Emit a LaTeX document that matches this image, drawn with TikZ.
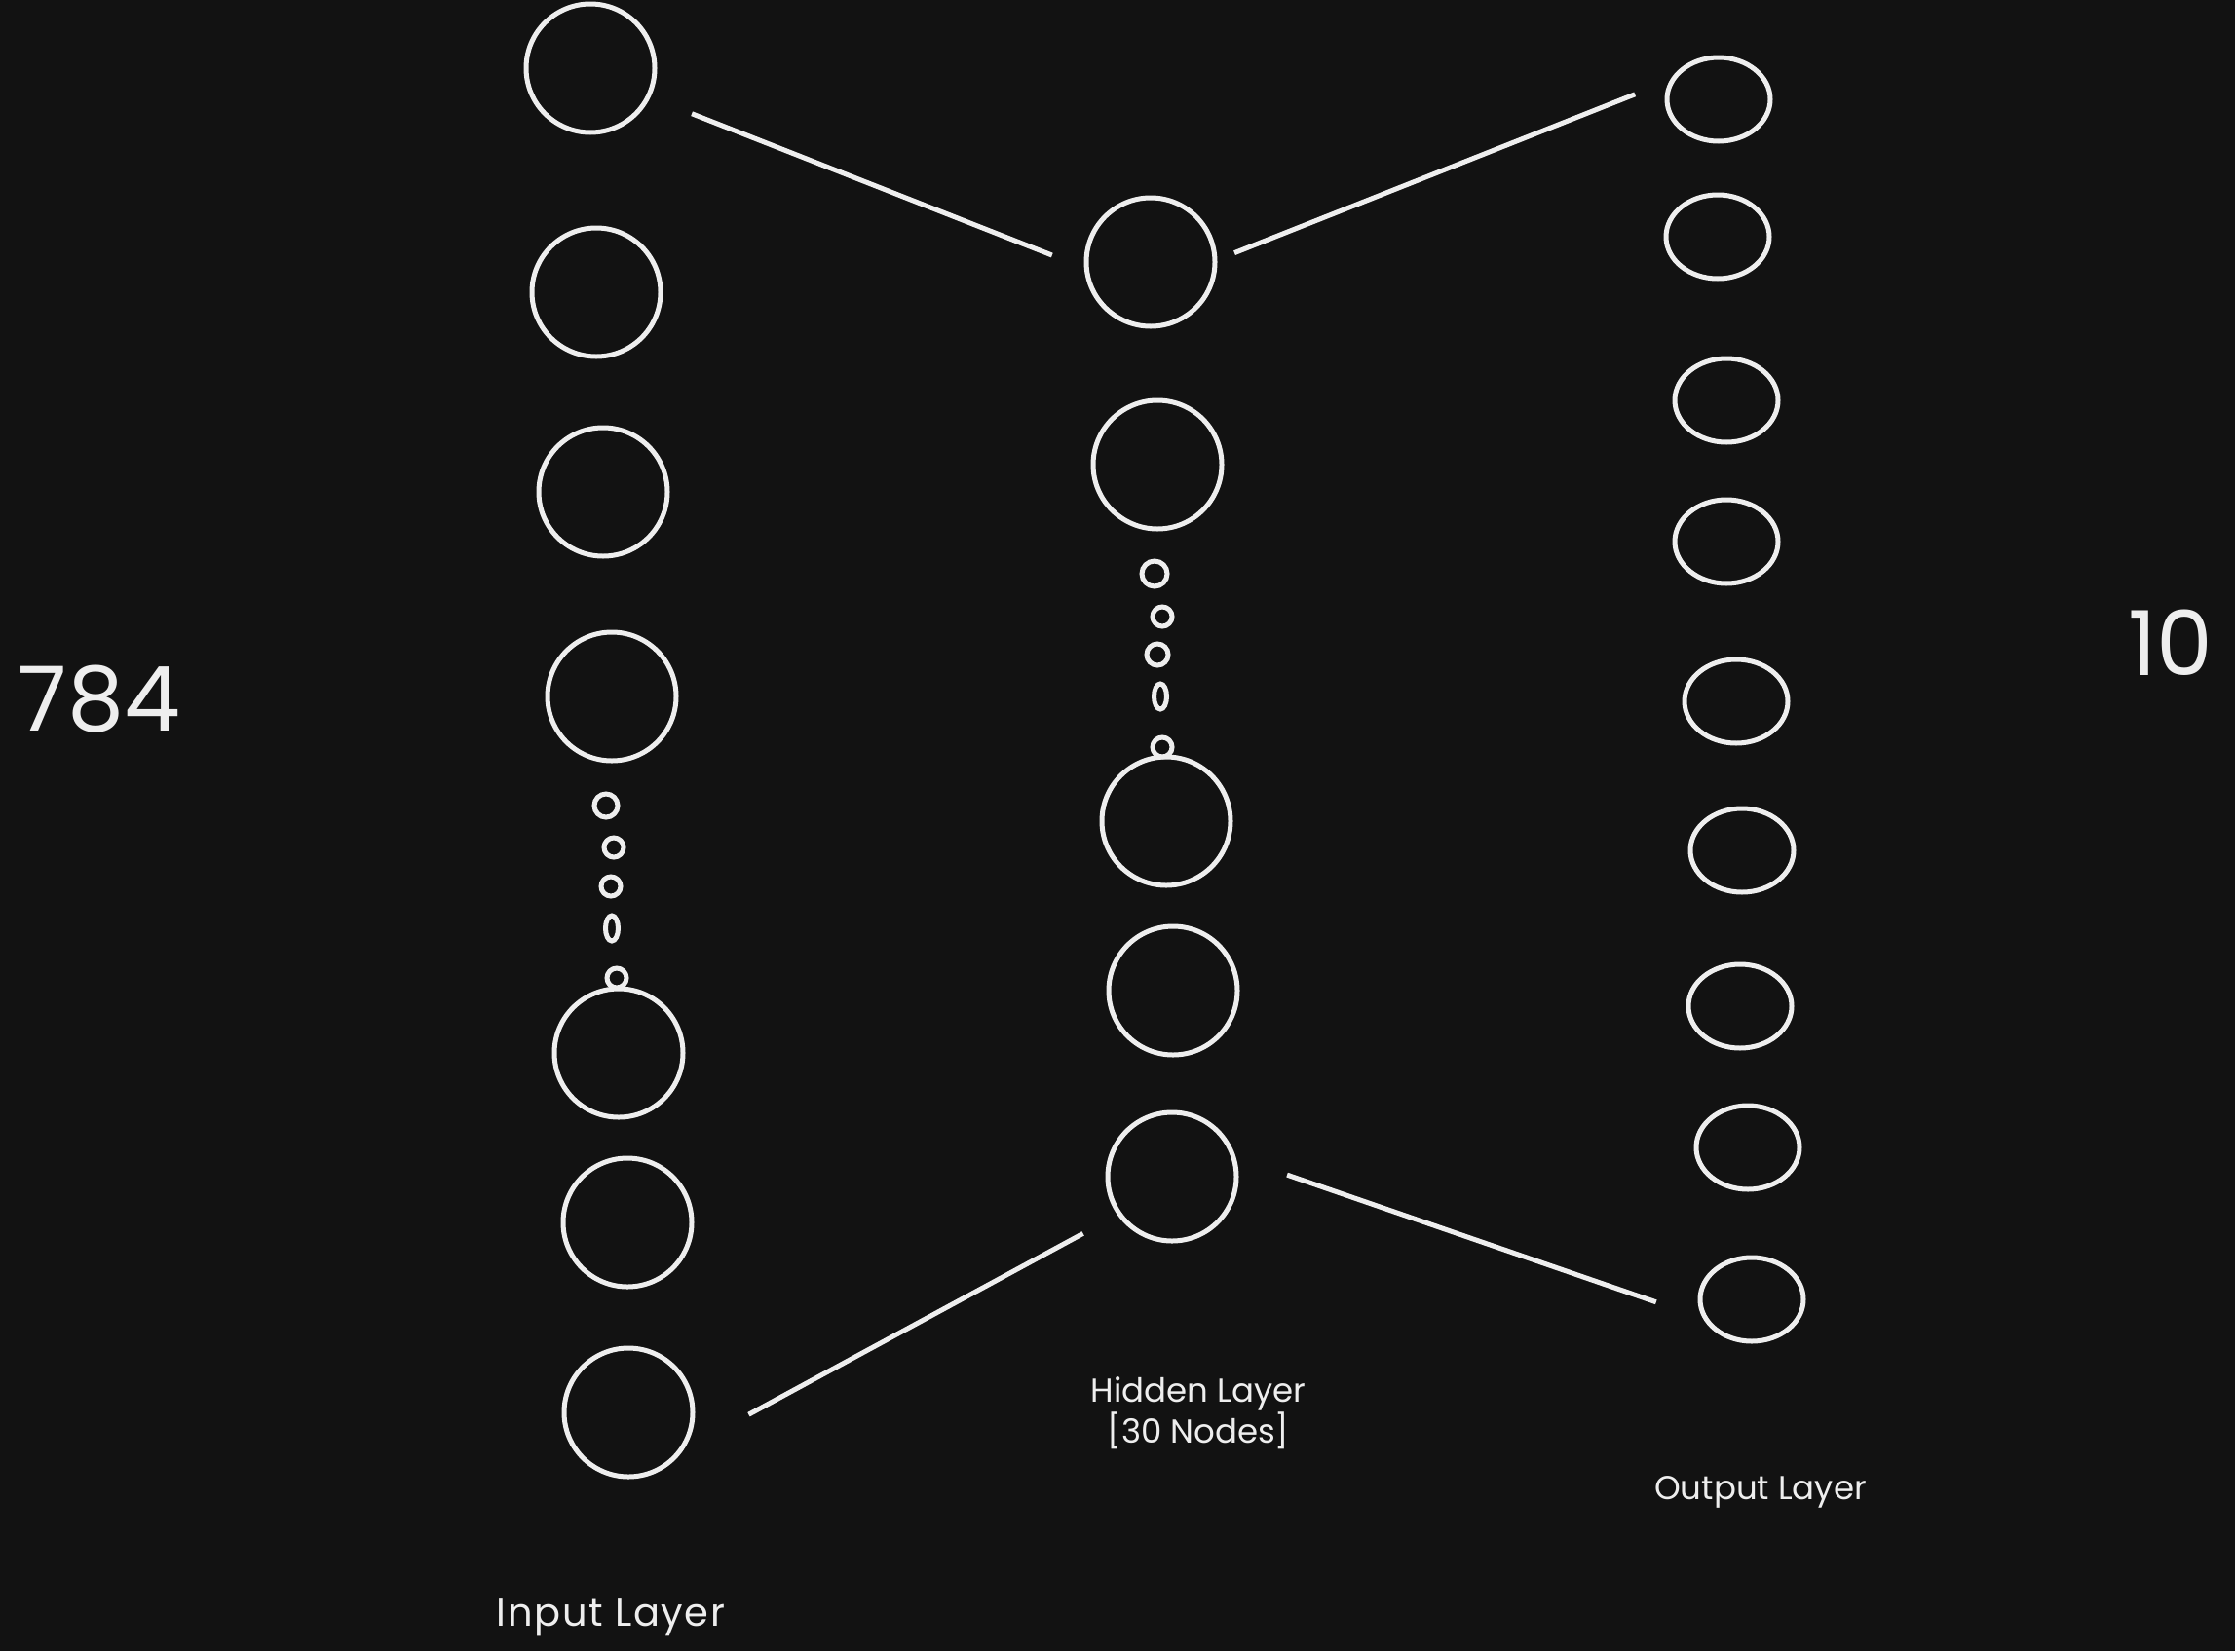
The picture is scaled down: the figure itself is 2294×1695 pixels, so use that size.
\documentclass[tikz,border=0pt]{standalone}
\usepackage{fontspec}
\setmainfont{Poppins}
\usetikzlibrary{shapes.geometric}
\definecolor{bg}{HTML}{121212}
\definecolor{ink}{HTML}{EEEEEE}
\begin{document}
\begin{tikzpicture}[x=1pt,y=-1pt,
 neuron/.style={circle,draw=ink,line width=5pt,minimum size=132pt,inner sep=0pt},
 outn/.style={ellipse,draw=ink,line width=5pt,minimum width=106pt,minimum height=86pt,inner sep=0pt},
 dotc/.style={circle,draw=ink,line width=5pt,minimum size=#1,inner sep=0pt},
 doto/.style={ellipse,draw=ink,line width=5pt,minimum width=13pt,minimum height=26pt,inner sep=0pt},
 edge/.style={draw=ink,line width=5pt},
 lbl/.style={text=ink,font=\fontsize{34}{42}\selectfont,align=center},
 big/.style={text=ink,font=\fontsize{92}{100}\selectfont}]
\fill[bg] (0,0) rectangle (2294,1695);
\useasboundingbox (0,0) rectangle (2294,1695);
% input layer
\node[neuron] (i1) at (606,70) {};
\node[neuron] (i2) at (612,300) {};
\node[neuron] (i3) at (619,505) {};
\node[neuron] (i4) at (628,715) {};
\node[neuron] (i5) at (635,1081) {};
\node[neuron] (i6) at (644,1255) {};
\node[neuron] (i7) at (645,1450) {};
\node[dotc=24pt] (id1) at (622,827) {};
\node[dotc=20pt] (id2) at (630,870) {};
\node[dotc=20pt] (id3) at (627,910) {};
\node[doto] (id4) at (628,953) {};
\node[dotc=20pt] (id5) at (633,1004) {};
% hidden layer
\node[neuron] (h1) at (1181,269) {};
\node[neuron] (h2) at (1188,477) {};
\node[neuron] (h3) at (1197,843) {};
\node[neuron] (h4) at (1204,1017) {};
\node[neuron] (h5) at (1203,1208) {};
\node[dotc=26pt] (hd1) at (1185,589) {};
\node[dotc=20pt] (hd2) at (1193,633) {};
\node[dotc=22pt] (hd3) at (1188,672) {};
\node[doto] (hd4) at (1191,715) {};
\node[dotc=20pt] (hd5) at (1193,767) {};
% output layer
\node[outn] (o1) at (1764,102) {};
\node[outn] (o2) at (1763,243) {};
\node[outn] (o3) at (1772,411) {};
\node[outn] (o4) at (1772,556) {};
\node[outn] (o5) at (1782,720) {};
\node[outn] (o6) at (1788,873) {};
\node[outn] (o7) at (1786,1033) {};
\node[outn] (o8) at (1794,1178) {};
\node[outn] (o9) at (1798,1334) {};
% connectors
\draw[edge,shorten <=45.7pt,shorten >=35.4pt] (i1.-26.2) -- (h1.185.9);
\draw[edge,shorten <=18.9pt,shorten >=38.3pt] (h1.2.6) -- (o1.159.2);
\draw[edge,shorten <=75.8pt,shorten >=40.1pt] (i7.-34.9) -- (h5.215.6);
\draw[edge,shorten <=55.6pt,shorten >=50.7pt] (h5.17.1) -- (o9.201.4);
% labels
\node[big] (n784) at (102,718) {784};
\node[big] (n10) at (2228,660) {10};
\node[lbl,font=\fontsize{40}{48}\selectfont\addfontfeature{LetterSpace=4}] (lin) at (627,1661) {Input Layer};
\node[lbl] (lhid) at (1230,1451) {Hidden Layer\\{[30 Nodes]}};
\node[lbl] (lout) at (1807,1532) {Output Layer};
\end{tikzpicture}
\end{document}
